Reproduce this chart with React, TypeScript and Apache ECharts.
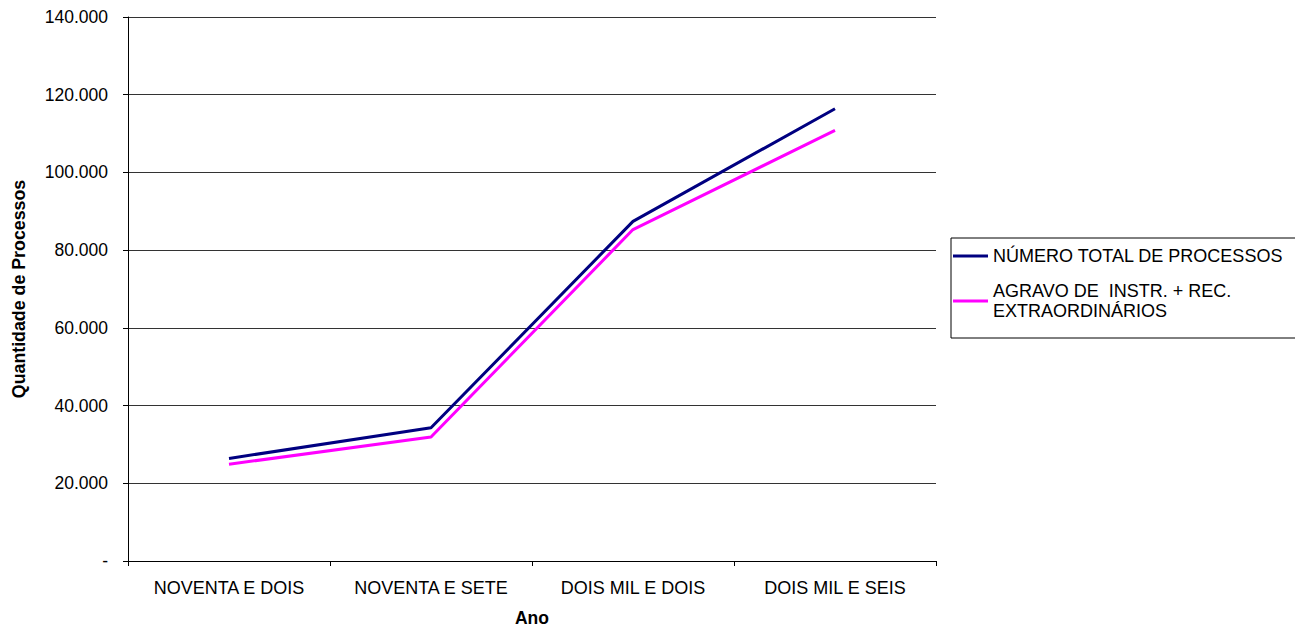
import React, { useEffect, useRef } from "react";
import * as echarts from "echarts";

const categories = ["NOVENTA E DOIS", "NOVENTA E SETE", "DOIS MIL E DOIS", "DOIS MIL E SEIS"];
const totalProcessos = [26400, 34300, 87400, 116400];
const agravoRec = [24900, 31900, 85300, 110800];
const seriesNames = ["NÚMERO TOTAL DE PROCESSOS", "AGRAVO DE  INSTR. + REC.\nEXTRAORDINÁRIOS"];

const FONT = "'Liberation Sans', Arial, sans-serif";

function fmt(v: number): string {
  if (v === 0) return "-";
  const s = Math.round(v).toString();
  return s.replace(/\B(?=(\d{3})+(?!\d))/g, ".");
}

export default function App() {
  const ref = useRef<HTMLDivElement>(null);
  useEffect(() => {
    if (!ref.current) return;
    const chart = echarts.init(ref.current, null, { renderer: "svg" });
    chart.setOption({
      animation: false,
      backgroundColor: "#fff",
      textStyle: { fontFamily: FONT },
      grid: { left: 128, right: 367, top: 17, bottom: 70, containLabel: false },
      legend: {
        orient: "vertical",
        left: 951,
        top: 238,
        padding: [8, 14, 7, 2],
        itemGap: 5,
        itemWidth: 35,
        itemHeight: 3,
        icon: "rect",
        borderColor: "#000",
        borderWidth: 1,
        borderRadius: 0,
        selectedMode: false,
        textStyle: { fontFamily: FONT, fontSize: 18, color: "#000", lineHeight: 20 },
        data: [
          { name: seriesNames[0] },
          { name: seriesNames[1], textStyle: { padding: [20, 0, 0, 0] } },
        ],
      },
      xAxis: {
        type: "category",
        data: categories,
        boundaryGap: true,
        name: "Ano",
        nameLocation: "middle",
        nameGap: 48,
        nameTextStyle: { fontFamily: FONT, fontSize: 17.5, fontWeight: "bold", color: "#000" },
        axisLine: { lineStyle: { color: "#000", width: 1 } },
        axisTick: { show: true, length: 5, lineStyle: { color: "#000" } },
        axisLabel: { color: "#000", fontSize: 18, fontFamily: FONT, margin: 18 },
        splitLine: { show: false },
      },
      yAxis: {
        type: "value",
        min: 0,
        max: 140000,
        interval: 20000,
        name: "Quantidade de Processos",
        nameLocation: "middle",
        nameGap: 100,
        nameTextStyle: { fontFamily: FONT, fontSize: 17.8, fontWeight: "bold", color: "#000" },
        axisLine: { show: true, lineStyle: { color: "#000", width: 1 } },
        axisTick: { show: true, length: 5, inside: false, lineStyle: { color: "#000" } },
        axisLabel: { color: "#000", fontSize: 17.5, fontFamily: FONT, margin: 20, formatter: (v: number) => fmt(v) },
        splitLine: { show: true, lineStyle: { color: "#333", width: 1 } },
      },
      series: [
        {
          name: seriesNames[0],
          type: "line",
          data: totalProcessos,
          symbol: "none",
          color: "#000080",
          lineStyle: { color: "#000080", width: 3 },
        },
        {
          name: seriesNames[1],
          type: "line",
          data: agravoRec,
          symbol: "none",
          color: "#FF00FF",
          lineStyle: { color: "#FF00FF", width: 3 },
        },
      ],
    });
    return () => chart.dispose();
  }, []);
  return <div ref={ref} style={{ width: 1303, height: 632, margin: -8 }} />;
}
